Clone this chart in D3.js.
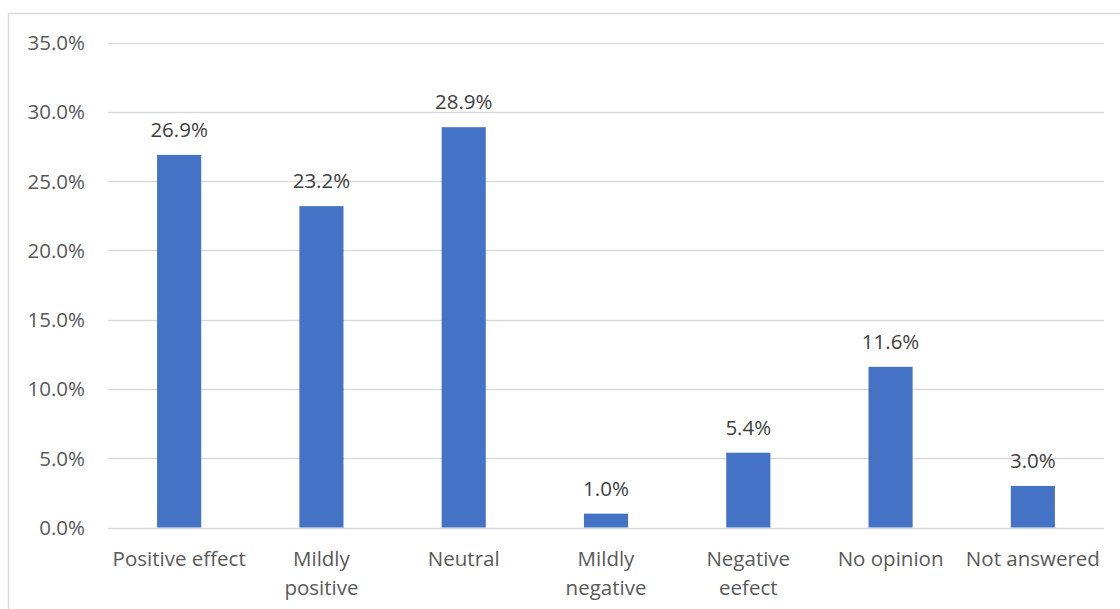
<!DOCTYPE html>
<html>
<head>
<meta charset="utf-8">
<script src="https://cdn.jsdelivr.net/npm/d3@7"></script>
<style>
  body { margin: 0; background: #fff; }
  #chart { width: 1120px; height: 609px; }
</style>
</head>
<body>
<div id="chart"></div>
<script>
const categories = ["Positive effect", "Mildly positive", "Neutral", "Mildly negative", "Negative eefect", "No opinion", "Not answered"];
const categoryLines = [["Positive effect"], ["Mildly", "positive"], ["Neutral"], ["Mildly", "negative"], ["Negative", "eefect"], ["No opinion"], ["Not answered"]];
const values = [26.9, 23.2, 28.9, 1.0, 5.4, 11.6, 3.0];
const yTicks = [0, 5, 10, 15, 20, 25, 30, 35];

const W = 1120, H = 609;
const fontFamily = "'Open Sans', 'Noto Sans', sans-serif";
const fontSize = "20.5px";
const textColor = "#595959";

const svg = d3.select("#chart")
    .append("svg")
    .attr("width", W)
    .attr("height", H);

// chart border
svg.append("rect")
    .attr("x", 8.5)
    .attr("y", 13.5)
    .attr("width", 1120)
    .attr("height", 620)
    .attr("fill", "none")
    .attr("stroke", "#d9d9d9")
    .attr("stroke-width", 1.5);

const x = d3.scaleBand()
    .domain(categories)
    .range([108, 1104])
    .paddingInner(0.69)
    .paddingOuter(0.345);

const y = d3.scaleLinear()
    .domain([0, 35])
    .range([527.5, 42.7]);

// gridlines
svg.append("g")
    .selectAll("line")
    .data(yTicks)
    .enter().append("line")
    .attr("x1", 108)
    .attr("x2", 1104)
    .attr("y1", d => Math.round(y(d)) + 0.5)
    .attr("y2", d => Math.round(y(d)) + 0.5)
    .attr("stroke", "#d9d9d9")
    .attr("stroke-width", 1.3);

// y tick labels
svg.append("g")
    .selectAll("text")
    .data(yTicks)
    .enter().append("text")
    .attr("x", 85)
    .attr("y", d => y(d))
    .attr("dy", "0.36em")
    .attr("text-anchor", "end")
    .style("font-family", fontFamily)
    .style("font-size", fontSize)
    .style("fill", textColor)
    .text(d => d.toFixed(1) + "%");

// bars
svg.append("g")
    .selectAll("rect")
    .data(values)
    .enter().append("rect")
    .attr("x", (d, i) => x(categories[i]))
    .attr("y", d => y(d))
    .attr("width", x.bandwidth())
    .attr("height", d => y(0) - y(d))
    .attr("fill", "#4472c4");

// data labels
svg.append("g")
    .selectAll("text")
    .data(values)
    .enter().append("text")
    .attr("x", (d, i) => x(categories[i]) + x.bandwidth() / 2)
    .attr("y", d => y(d) - 18)
    .attr("text-anchor", "middle")
    .style("font-family", fontFamily)
    .style("font-size", fontSize)
    .style("fill", "#404040")
    .text(d => d.toFixed(1) + "%");

// category labels
const catG = svg.append("g")
    .selectAll("text")
    .data(categories)
    .enter().append("text")
    .attr("x", d => x(d) + x.bandwidth() / 2)
    .attr("y", 566)
    .attr("text-anchor", "middle")
    .style("font-family", fontFamily)
    .style("font-size", fontSize)
    .style("fill", textColor);

catG.each(function (d, i) {
    const t = d3.select(this);
    categoryLines[i].forEach((line, j) => {
        t.append("tspan")
            .attr("x", x(d) + x.bandwidth() / 2)
            .attr("dy", j === 0 ? 0 : 29)
            .text(line);
    });
});
</script>
</body>
</html>
